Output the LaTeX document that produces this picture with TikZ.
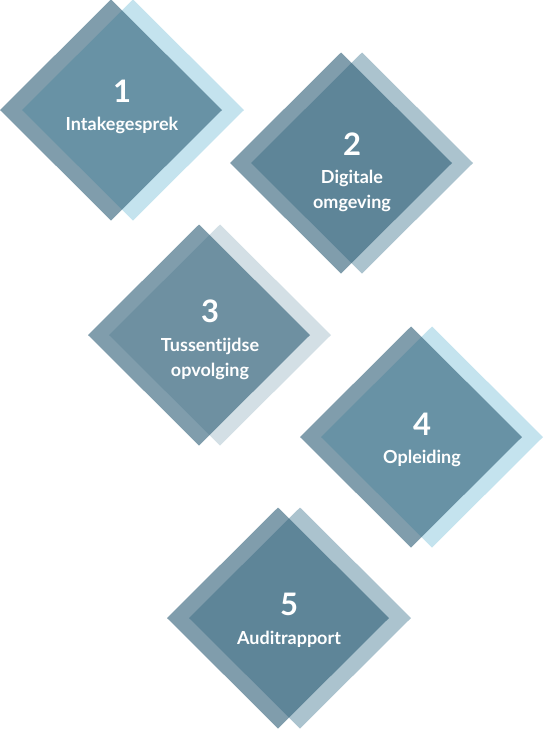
\documentclass[tikz,border=0pt]{standalone}
\usepackage{fontspec}
\setmainfont{Lato}[Ligatures=NoCommon]
\usepackage{tikz}
\usetikzlibrary{shapes.geometric,positioning}
\definecolor{backcyan}{HTML}{C4E3EE}
\definecolor{backgrey}{HTML}{ABC3CE}
\definecolor{backpale}{HTML}{D3DFE5}
\definecolor{frontblue}{HTML}{2B5C75}

\begin{document}
\begin{tikzpicture}[x=1pt, y=-1pt, node distance=15pt,
    	tile/.style={diamond,minimum width=222pt,minimum height=221pt,inner sep=0pt,outer sep=0pt},
    	front tile/.style={tile,fill=frontblue,fill opacity=0.6},
    	num text/.style={text=white,font=\bfseries\fontsize{31}{31}\selectfont,inner sep=0pt,anchor=base},
    	tile text/.style={text=white,font=\bfseries\fontsize{18}{25}\selectfont,align=center,inner sep=0pt}]
    	
    	\useasboundingbox (0,0) rectangle (545,731);
    	
    	\node[tile, fill=backcyan] (back1) at (133,110) {};
    	\node[front tile] (front1) at (111,110) {};
    	\node[num text] (num1) at (122,102) {1};
    	\node[tile text] (txt1) [below=of num1] {Intakegesprek};
    	
    	\node[tile, fill=backgrey] (back2) at (362,163) {};
    	\node[front tile] (front2) at (341,163) {};
    	\node[num text] (num2) at (352,155) {2};
    	\node[tile text] (txt2) [below=of num2] {Digitale\\omgeving};
    	
    	\node[tile, fill=backpale] (back3) at (220,335) {};
    	\node[front tile] (front3) at (199,335) {};
    	\node[num text] (num3) at (210,322) {3};
    	\node[tile text] (txt3) [below=of num3] {Tussentijdse\\opvolging};
    	
    	\node[tile, fill=backcyan] (back4) at (432,437) {};
    	\node[front tile] (front4) at (411,437) {};
    	\node[num text] (num4) at (422,435) {4};
    	\node[tile text] (txt4) [below=of num4] {Opleiding};
    	
    	\node[tile, fill=backgrey] (back5) at (300,618) {};
    	\node[front tile] (front5) at (278,618) {};
    	\node[num text] (num5) at (289,615) {5};
    	\node[tile text] (txt5) [below=of num5] {Auditrapport};
    	\end{tikzpicture}
\end{document}
